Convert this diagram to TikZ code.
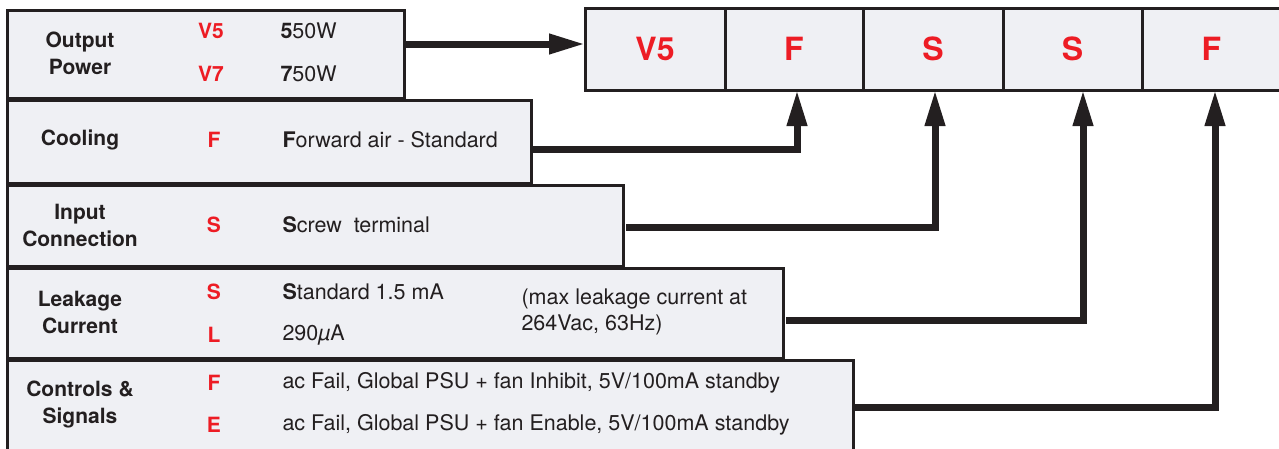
\documentclass[tikz,border=0pt]{standalone}
\usepackage{fontspec}
\setmainfont{TeX Gyre Heros}
\usetikzlibrary{arrows.meta}
\definecolor{ink}{HTML}{231F20}
\definecolor{boxfill}{HTML}{EFF0F4}
\definecolor{codered}{HTML}{ED1C24}
\tikzset{
 panel/.style={draw=ink, line width=3pt, fill=boxfill, rectangle, inner sep=0pt, outer sep=0pt, anchor=north west},
 lbl/.style={font=\fontsize{21}{27}\selectfont\bfseries, text=ink, align=center},
 code/.style={font=\fontsize{21}{23}\selectfont\bfseries, text=codered},
 desc/.style={font=\fontsize{21.5}{23}\selectfont, text=ink, anchor=west, align=left},
 cell/.style={draw=ink, line width=3pt, fill=boxfill, minimum height=82pt, inner sep=0pt, outer sep=0pt, anchor=north west, font=\fontsize{32}{34}\selectfont\bfseries, text=codered},
 conn/.style={draw=ink, line width=7pt, -{Triangle[length=36pt,width=19pt]}, line join=miter},
}
\begin{document}
\begin{tikzpicture}[x=1pt,y=-1pt]
\useasboundingbox (0,0) rectangle (1279,448);
% panels
\node[panel, minimum width=397pt, minimum height=88pt] (out) at (7,10) {};
\node[panel, minimum width=524pt, minimum height=83pt] (cool) at (7,100) {};
\node[panel, minimum width=616pt, minimum height=81pt] (inp) at (7,185) {};
\node[panel, minimum width=776pt, minimum height=90pt] (leak) at (7,268) {};
\node[panel, minimum width=846pt, minimum height=92pt] (ctrl) at (7,360) {};
% cells
\node[cell, minimum width=140pt] (c1) at (585,8) {V5};
\node[cell, minimum width=138pt] (c2) at (725,8) {F};
\node[cell, minimum width=140pt] (c3) at (863,8) {S};
\node[cell, minimum width=139pt] (c4) at (1003,8) {S};
\node[cell, minimum width=139pt] (c5) at (1142,8) {F};
% output power
\node[lbl] (tout) at (80,53) {Output\\Power};
\node[code] (kv5) at (211,31) {V5};
\node[code] (kv7) at (211,74) {V7};
\node[desc] (d550) at (277,31) {\textbf{5}50W};
\node[desc] (d750) at (277,74) {\textbf{7}50W};
% cooling
\node[lbl] (tcool) at (80,140) {Cooling};
\node[code] (kf) at (214,140) {F};
\node[desc] (dfwd) at (279,140) {\textbf{F}orward air - Standard};
% input
\node[lbl] (tinp) at (80,225) {Input\\Connection};
\node[code] (ks) at (214,225) {S};
\node[desc] (dscr) at (279,225) {\textbf{S}crew\ \ terminal};
% leakage
\node[lbl] (tleak) at (80,312) {Leakage\\Current};
\node[code] (ks2) at (214,292) {S};
\node[code] (kl) at (214,335) {L};
\node[desc] (dstd) at (279,292) {\textbf{S}tandard 1.5 mA};
\node[desc] (d290) at (279,335) {290{\itshape µ}A};
\node[desc, font=\fontsize{21.5}{26}\selectfont] (dmax) at (518,312) {(max leakage current at\\264Vac, 63Hz)};
% controls
\node[lbl] (tctrl) at (80,404) {Controls \&\\Signals};
\node[code] (kf2) at (214,383) {F};
\node[code] (ke) at (214,425) {E};
\node[desc] (dinh) at (279,383) {ac Fail, Global PSU + fan Inhibit, 5V/100mA standby};
\node[desc] (denb) at (279,425) {ac Fail, Global PSU + fan Enable, 5V/100mA standby};
% connectors
\draw[conn] ([yshift=10pt]out.east) -- ([yshift=5pt]c1.west);
\draw[conn] ([yshift=-7.5pt]cool.east) -| ([xshift=3pt]c2.south);
\draw[conn] ([xshift=3pt,yshift=-2pt]inp.east) -| ([xshift=2pt]c3.south);
\draw[conn] ([xshift=3pt,yshift=-7pt]leak.east) -| ([xshift=10.5pt]c4.south);
\draw[conn] ([xshift=2pt,yshift=-1pt]ctrl.east) -| ([xshift=3.5pt]c5.south);
\end{tikzpicture}
\end{document}
